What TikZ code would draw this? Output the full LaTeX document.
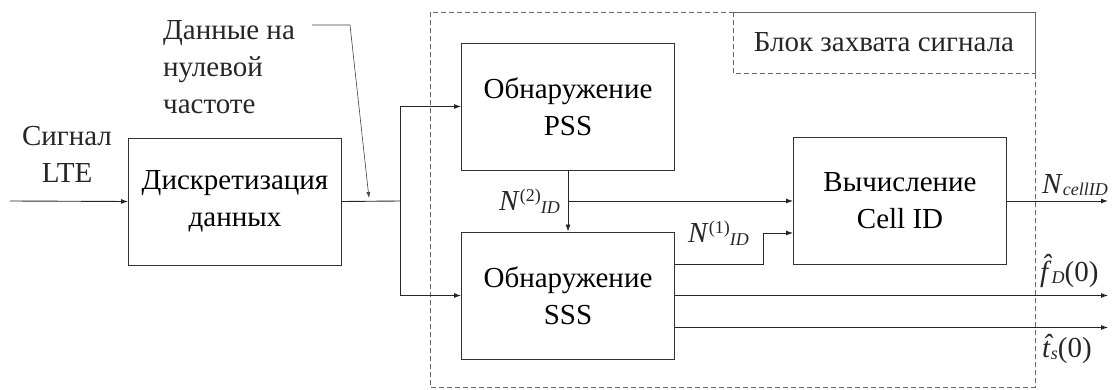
\documentclass[tikz,border=0pt]{standalone}
\usepackage{fontspec}
\setmainfont{Liberation Serif}
\newfontfamily\tnr{Liberation Serif}
\usetikzlibrary{arrows.meta}
\newcommand\lsub[1]{\raisebox{-0.08em}{\fontsize{18}{18}\selectfont\textit{#1}}}
\newcommand\lsup[1]{\raisebox{0.32em}{\fontsize{18}{18}\selectfont #1}}
\begin{document}
\begin{tikzpicture}[x=1pt,y=-1pt,
  font=\tnr\fontsize{29}{37}\selectfont,
  blk/.style={draw=black!80, line width=0.9pt, minimum width=213pt, minimum height=127pt, inner sep=0pt, align=center},
  arr/.style={-{Latex[length=7pt,width=5pt]}, line width=0.9pt, draw=black!85},
  ln/.style={line width=0.9pt, draw=black!85},
  thinarr/.style={-{Latex[length=6pt,width=4pt]}, line width=0.6pt, draw=black!75},
  dsh/.style={draw=black!60, dash pattern=on 5pt off 3pt, line width=0.9pt},
  lbl/.style={inner sep=0pt, text=black!85}]

\useasboundingbox (0,0) rectangle (1112,390);

% outer dashed block and its title box
\draw[dsh] (430,12) rectangle (1035,387);
\draw[dsh] (733,12) rectangle (1035,73);
\node[lbl] (title) at (884,42) {Блок захвата сигнала};

% blocks
\node[blk] (disc) at (235,201.5) {Дискретизация\\данных};
\node[blk] (pss) at (568,106.5) {Обнаружение\\PSS};
\node[blk] (sss) at (568,295.5) {Обнаружение\\SSS};
\node[blk] (cell) at (900,201) {Вычисление\\Cell ID};

% input
\coordinate (in) at (10,201);
\node[lbl, align=center] (sig) at (67,154) {Сигнал\\LTE};
\draw[arr] (in) -- (disc.west);

% split after sampling
\coordinate (j) at (400,201);
\draw[ln] (disc.east) -- (j);
\draw[arr] (j) |- (pss.west);
\draw[arr] (j) |- (sss.west);

% annotation
\node[lbl, align=left, anchor=west] (note) at (163,67) {Данные на\\нулевой\\частоте};
\coordinate (nA) at (312,25);
\coordinate (nB) at (350,25);
\coordinate (nC) at (369,198);
\draw[thinarr] (nA) -- (nB) -- (nC);

% PSS -> SSS and PSS -> Cell ID
\draw[arr] (pss.south) -- (sss.north);
\draw[arr] (pss.south |- cell.west) -- (cell.west);
\node[lbl, anchor=east] (n2) at (560,201) {\textit{N}\lsup{(2)}\lsub{ID}};

% SSS -> Cell ID
\draw[arr] ([yshift=31.5pt]sss.east) -- ++(88,0) |- ([yshift=-32pt]cell.west);
\node[lbl, anchor=east] (n1) at (749,233) {\textit{N}\lsup{(1)}\lsub{ID}};

% outputs
\coordinate (o1) at (1108,201);
\draw[arr] (cell.east) -- (o1);
\node[lbl, anchor=west] (ncell) at (1042,185) {\textit{N}\lsub{cellID}};

\coordinate (o2) at (1108,295.5);
\draw[arr] (sss.east) -- (o2);
\node[lbl, anchor=west] (fd) at (1040,271) {\textit{\accent"02C6 f}\lsub{D}(0)};

\coordinate (o3) at (1108,327.5);
\draw[arr] ([yshift=-32pt]sss.east) -- (o3);
\node[lbl, anchor=west] (ts) at (1042,349) {\textit{\accent"02C6 t}\lsub{s}(0)};
\end{tikzpicture}
\end{document}
